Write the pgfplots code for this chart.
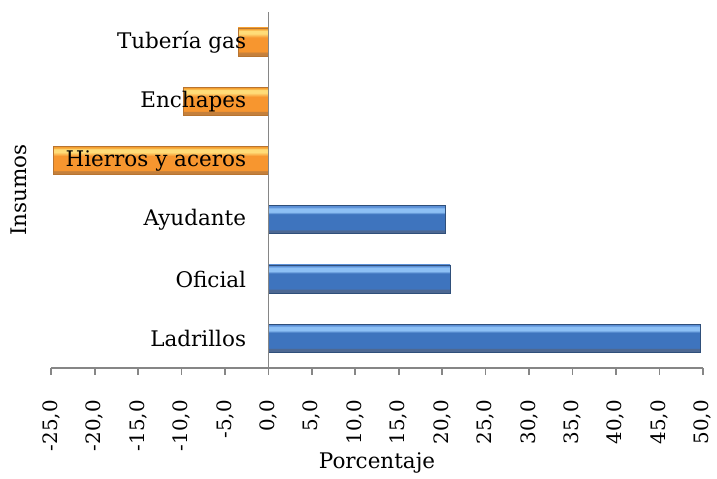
\documentclass[border=0pt]{standalone}
\usepackage{pgfplots}
\pgfplotsset{compat=1.18}
\usepackage{fontspec}
\setmainfont{DejaVu Serif}
\definecolor{axgray}{HTML}{868686}
\definecolor{btopedge}{HTML}{5B8FD6}
\definecolor{blight}{HTML}{8DC0F5}
\definecolor{bmid}{HTML}{3E74BE}
\definecolor{bbot}{HTML}{4D6892}
\definecolor{blueedge}{HTML}{2F4F7A}
\definecolor{otopedge}{HTML}{F5A030}
\definecolor{olight}{HTML}{FFDC78}
\definecolor{omid}{HTML}{F7962F}
\definecolor{obot}{HTML}{C4803C}
\definecolor{oredge}{HTML}{B87430}
\pgfdeclareverticalshading{bluebar}{100bp}{color(0bp)=(bbot); color(25bp)=(bbot); color(31bp)=(bbot); color(33bp)=(bmid); color(60bp)=(bmid); color(64bp)=(blight); color(70bp)=(blight); color(73bp)=(btopedge); color(75bp)=(btopedge); color(100bp)=(btopedge)}
\pgfdeclareverticalshading{orangebar}{100bp}{color(0bp)=(obot); color(25bp)=(obot); color(31bp)=(obot); color(33bp)=(omid); color(58bp)=(omid); color(65bp)=(olight); color(70bp)=(olight); color(73bp)=(otopedge); color(75bp)=(otopedge); color(100bp)=(otopedge)}
\begin{document}
\begin{tikzpicture}[font=\fontsize{13}{15}\selectfont]
\begin{axis}[
  scale only axis,
  width=394pt, height=215pt,
  xmin=-25, xmax=50,
  ymin=-0.5, ymax=5.5,
  enlarge y limits=false,
  axis x line=bottom,
  axis y line=middle,
  axis line style={-, draw=axgray, line width=1pt},
  axis on top,
  xtick distance=5,
  tick align=outside,
  x tick style={draw=axgray, line width=1pt},
  major tick length=4pt,
  y tick style={draw=none},
  ytick={0,1,2,3,4,5},
  yticklabels={Ladrillos, Oficial, Ayudante, Hierros y aceros, Enchapes, Tubería gas},
  yticklabel style={xshift=-6pt},
  xticklabel style={rotate=90, anchor=east, font=\fontsize{12}{14}\selectfont},
  xticklabel shift=12pt,
  /pgf/number format/.cd, fixed, fixed zerofill, precision=1, use comma, assume math mode=true,
  /pgfplots/.cd,
  xlabel={Porcentaje},
  xlabel style={yshift=6pt},
  ylabel={Insumos},
  every axis y label/.style={at={(rel axis cs:0,0.5)}, rotate=90, anchor=south, yshift=11pt},
  xbar, bar width=17pt, bar shift=0pt,
]
\addplot[draw=blueedge, line width=0.4pt, shading=bluebar] coordinates {(49.7,0)};
\addplot[draw=blueedge, line width=0.4pt, shading=bluebar] coordinates {(20.9,1)};
\addplot[draw=blueedge, line width=0.4pt, shading=bluebar] coordinates {(20.4,2)};
\addplot[draw=oredge, line width=0.4pt, shading=orangebar] coordinates {(-24.8,3)};
\addplot[draw=oredge, line width=0.4pt, shading=orangebar] coordinates {(-9.8,4)};
\addplot[draw=oredge, line width=0.4pt, shading=orangebar] coordinates {(-3.5,5)};
\end{axis}
\path ([xshift=-3.5pt,yshift=7pt]current bounding box.north west);
\end{tikzpicture}
\end{document}
